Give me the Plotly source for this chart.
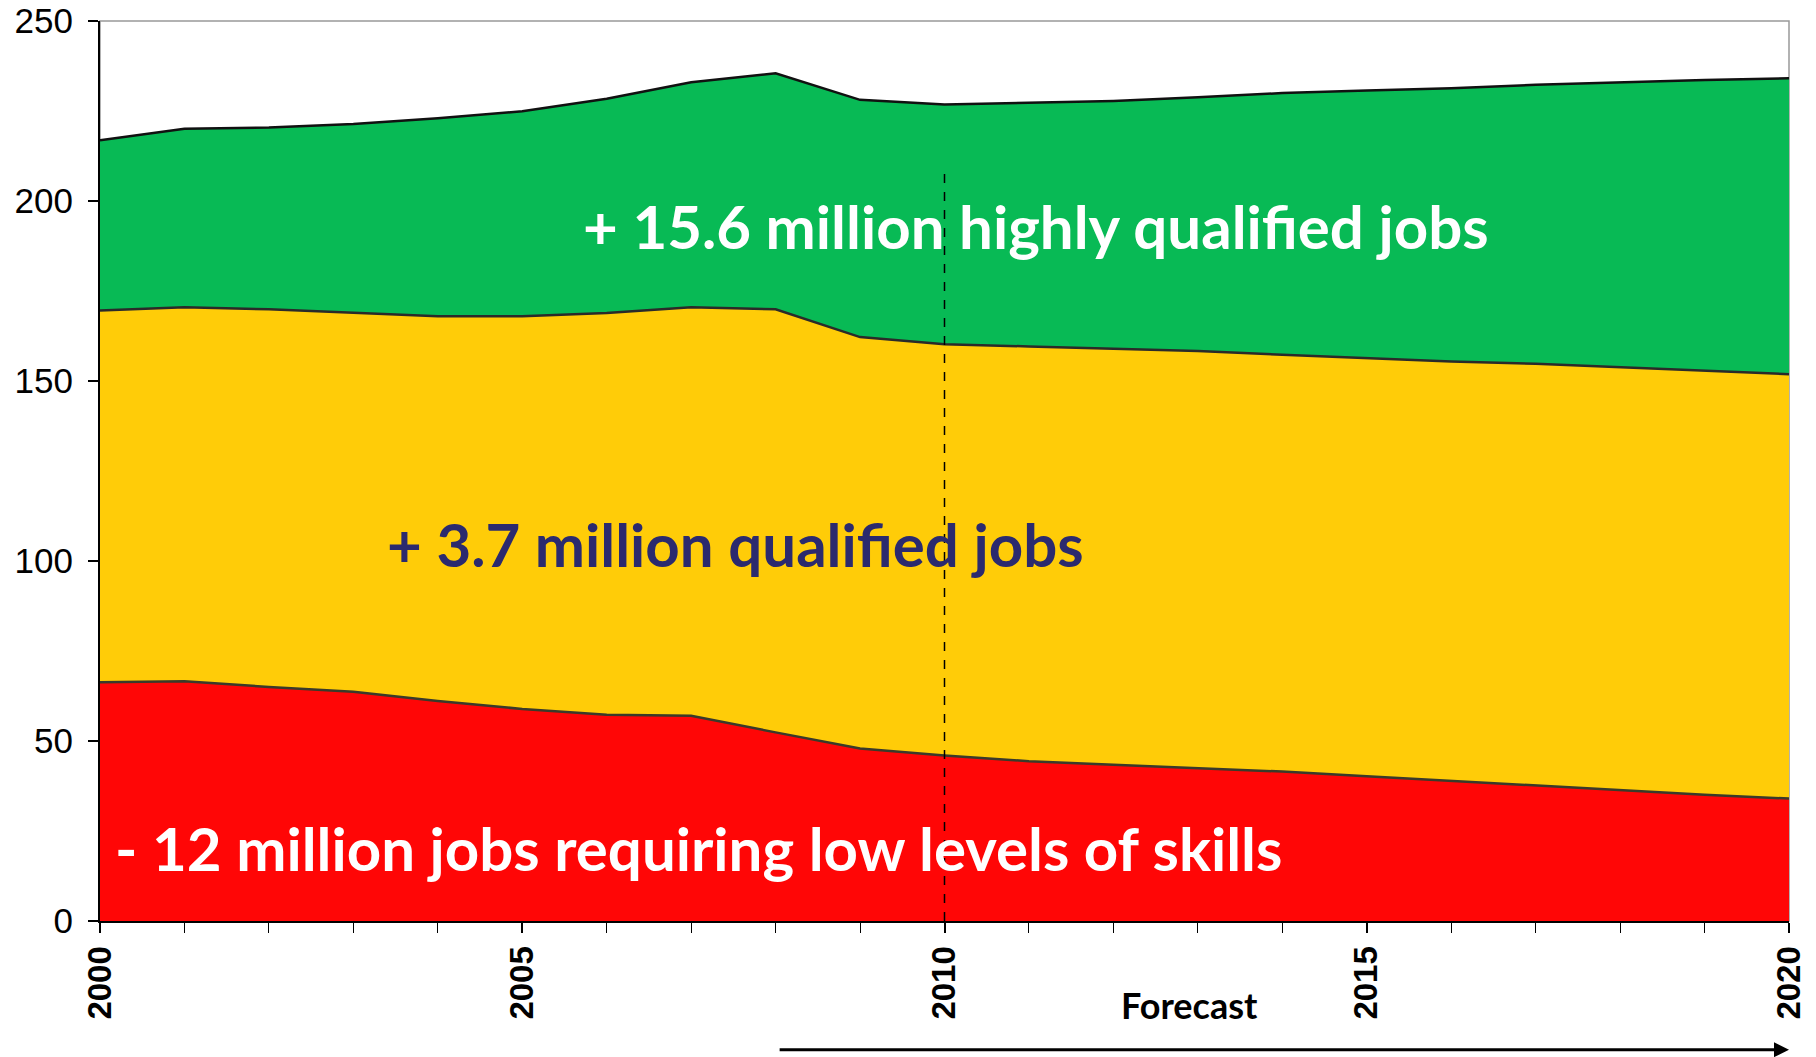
import plotly.graph_objects as go

years = list(range(2000, 2021))
low_skill = [66.3, 66.6, 65.0, 63.7, 61.1, 58.9, 57.3, 57.0, 52.4, 47.9, 46.0,
             44.4, 43.4, 42.5, 41.5, 40.2, 38.9, 37.6, 36.3, 35.1, 34.0]
qualified = [103.3, 103.9, 104.9, 105.2, 106.9, 109.1, 111.6, 113.5, 117.5, 114.3, 114.2,
             115.2, 115.5, 115.8, 115.8, 116.2, 116.5, 117.2, 117.5, 117.7, 117.9]
highly_qualified = [47.3, 49.6, 50.5, 52.5, 55.0, 56.9, 59.5, 62.5, 65.6, 65.9, 66.6,
                    67.6, 68.9, 70.5, 72.7, 74.3, 75.9, 77.5, 79.2, 80.8, 82.2]

labels = ["- 12 million jobs requiring low levels of skills",
          "+ 3.7 million qualified jobs",
          "+ 15.6 million highly qualified jobs"]
forecast_start = 2010
y_ticks = [0, 50, 100, 150, 200, 250]
x_ticks = [2000, 2005, 2010, 2015, 2020]

fig = go.Figure()
series = [(low_skill, "#FF0606", "#3a3a2a"),
          (qualified, "#FFCC08", "#2a2a2a"),
          (highly_qualified, "#08BA55", "#111111")]
for vals, col, lc in series:
    fig.add_trace(go.Scatter(x=years, y=vals, stackgroup="one", mode="lines",
                             fillcolor=col, line=dict(color=lc, width=2.5),
                             hoverinfo="skip", showlegend=False))

# dashed forecast line
fig.add_trace(go.Scatter(x=[forecast_start, forecast_start], y=[0, 209], mode="lines",
                         line=dict(color="black", width=1.5, dash="dash"),
                         hoverinfo="skip", showlegend=False))

font_txt = "Lato"
fig.add_annotation(x=2005.70, y=193, xanchor="left", text="<b>" + labels[2] + "</b>", showarrow=False,
                   font=dict(family=font_txt, size=60, color="white"))
fig.add_annotation(x=2003.37, y=104.6, xanchor="left", text="<b>" + labels[1] + "</b>", showarrow=False,
                   font=dict(family=font_txt, size=60, color="#2B2A6E"))
fig.add_annotation(x=2000.15, y=20.3, xanchor="left", text="<b>" + labels[0] + "</b>", showarrow=False,
                   font=dict(family=font_txt, size=60, color="white"))

fig.add_annotation(x=2012.9, y=-0.12, xref="x", yref="paper", text="<b>Forecast</b>",
                   showarrow=False, font=dict(family=font_txt, size=36, color="black"))
fig.add_annotation(x=2020, y=-0.143, xref="x", yref="paper", axref="x", ax=2008.03,
                   ayref="pixel", ay=0, text="", showarrow=True, arrowhead=2,
                   arrowsize=1, arrowwidth=3, arrowcolor="black")

# frame (gray top/right)
fig.add_shape(type="rect", xref="paper", yref="paper", x0=0, y0=0, x1=1, y1=1,
              line=dict(color="#999999", width=1.5), layer="below")

fig.update_layout(
    width=1816, height=1057,
    margin=dict(l=100, r=27, t=21, b=136),
    plot_bgcolor="white", paper_bgcolor="white",
    font=dict(family="Liberation Sans", color="black"),
    xaxis=dict(range=[2000, 2020], tickvals=x_ticks, ticktext=[str(v) for v in x_ticks],
               tickangle=-90, tickfont=dict(family="Liberation Sans", size=33, color="black", weight="bold"),
               ticks="outside", ticklen=10, tickcolor="black", tickwidth=1.5,
               minor=dict(dtick=1, ticks="outside", ticklen=10, tickcolor="black", tickwidth=1),
               showline=True, linecolor="black", linewidth=2, showgrid=False, zeroline=False,
               automargin=False),
    yaxis=dict(range=[0, 250], tickvals=y_ticks, tickfont=dict(family="Liberation Sans", size=35, color="black"),
               ticks="outside", ticklen=10, tickcolor="black", tickwidth=1.5, ticklabelstandoff=8,
               showline=True, linecolor="black", linewidth=2, showgrid=False, zeroline=False,
               automargin=False),
)

fig.write_html("out.html", config={"displayModeBar": False},
               post_script="document.body.style.margin='0';document.body.style.overflow='hidden';")
